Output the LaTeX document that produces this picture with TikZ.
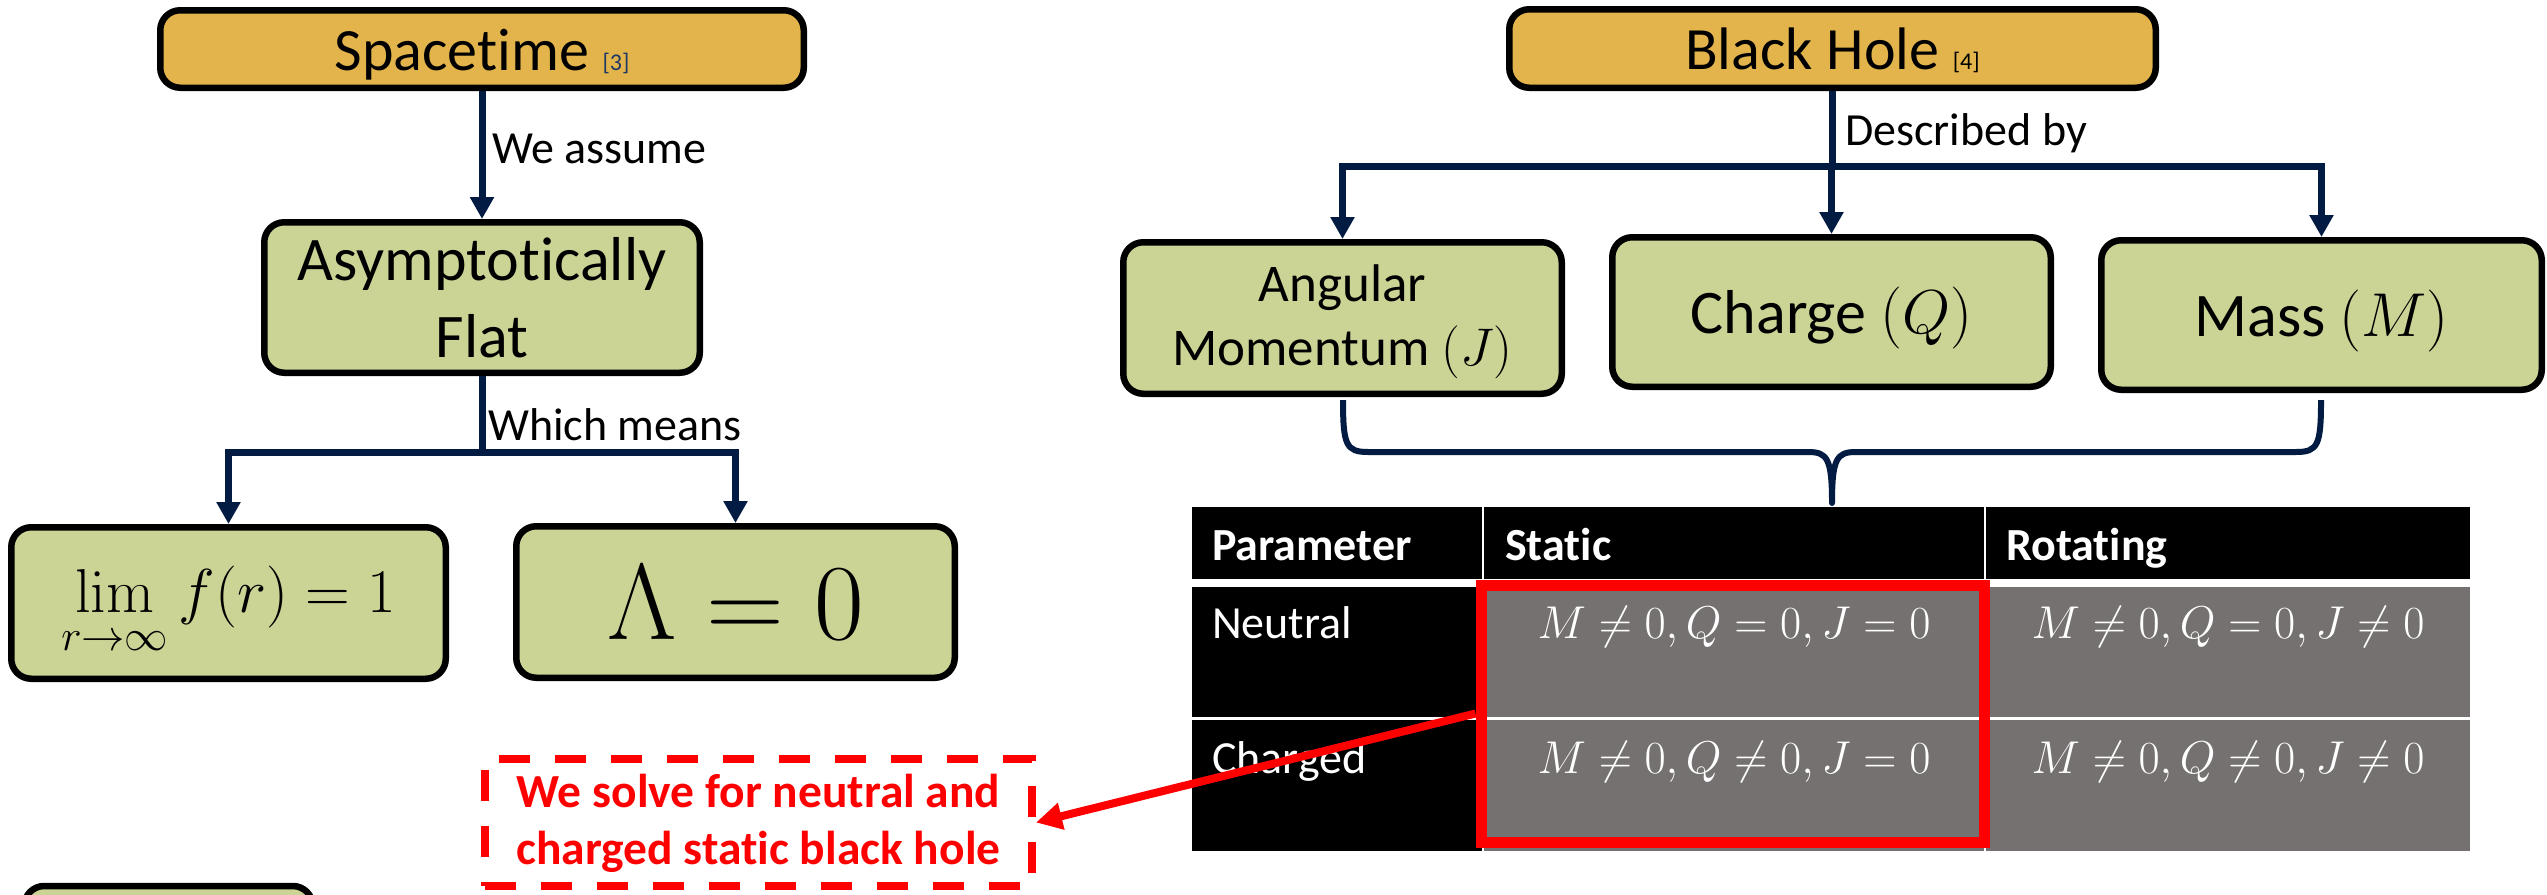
\RequirePackage{fix-cm}
\documentclass[tikz,border=0pt]{standalone}
\usepackage{exscale}
\usepackage[no-math]{fontspec}
\setmainfont{Carlito}[Ligatures={NoCommon}]
\usetikzlibrary{arrows.meta}
\definecolor{gold}{HTML}{E2B44B}
\definecolor{boxgreen}{HTML}{CBD395}
\definecolor{navy}{HTML}{021B43}
\definecolor{cellgray}{HTML}{767171}
\definecolor{refblue}{HTML}{1F3864}
\definecolor{pured}{HTML}{FF0000}
\newcommand{\myfs}[1]{\fontsize{#1}{#1}\selectfont}
\tikzset{
  box/.style={draw=black, line width=6.5pt, rounded corners=20pt, fill=boxgreen, inner sep=0pt, align=center},
  goldbox/.style={box, fill=gold},
  link/.style={draw=navy, line width=7pt},
  linkarrow/.style={link, -{Triangle[length=22pt,width=23pt]}},
  lbl/.style={anchor=base west, inner sep=0pt, font=\myfs{46}},
  celltxt/.style={anchor=base west, inner sep=0pt, text=white, font=\myfs{46}},
  cellhead/.style={celltxt, font=\bfseries\myfs{46}},
  cellmath/.style={anchor=base, inner sep=0pt, text=white, font=\myfs{46}},
  redline/.style={draw=pured, line width=8pt},
}
\begin{document}
\begin{tikzpicture}[x=1pt,y=-1pt]
\useasboundingbox (0,0) rectangle (2547,894);

% ---------- left tree ----------
\node[goldbox, minimum width=643.5pt, minimum height=77.5pt, text height=42pt, text depth=0pt, font=\myfs{60}] (space) at (482,49) {Spacetime {\myfs{24}\textcolor{refblue}{[3]}}};
\node[box, minimum width=435.5pt, minimum height=150.5pt, font=\fontsize{62}{77}\selectfont] (flat) at (482,297.5) {Asymptotically\\Flat};
\node[box, minimum width=434.5pt, minimum height=151.5pt, text height=45pt, text depth=27pt, font=\myfs{62}] (limit) at (228.5,603) {$\displaystyle\lim_{\rule{0pt}{34pt}r\to\infty} f(r) = 1$};
\node[box, minimum width=438.5pt, minimum height=151.5pt, text height=74pt, text depth=0pt, font=\myfs{108}] (lambda) at (735.5,602) {$\Lambda = 0$};
\node[box, minimum width=288.5pt, minimum height=150pt] (nextbox) at (168.5,961) {};

\draw[linkarrow] (space) -- (flat);
\node[lbl] (assume) at (492,163) {We assume};
\path (flat.south) ++(0,76) coordinate (fj);
\draw[link] (flat.south) -- (fj);
\draw[linkarrow] (fj) -| (limit.north);
\draw[linkarrow] (fj) -| (lambda.north);
\node[lbl] (means) at (488,440) {Which means};

% ---------- right tree ----------
\node[goldbox, minimum width=646.5pt, minimum height=78.5pt, text height=42pt, text depth=0pt, font=\myfs{60}] (bh) at (1832.5,48.5) {Black Hole {\myfs{24}[4]}};
\node[box, minimum width=438.5pt, minimum height=151.5pt, font=\fontsize{53}{64}\selectfont] (ang) at (1342.5,318) {\rule{0pt}{44pt}Angular\\Momentum $(J)$};
\node[box, minimum width=438.5pt, minimum height=149.5pt, text height=42pt, text depth=0pt, font=\myfs{62}] (chg) at (1831.5,312) {Charge $(Q)$};
\node[box, minimum width=440.5pt, minimum height=149.5pt, text height=42pt, text depth=0pt, font=\myfs{62}] (mass) at (2321.5,315) {Mass $(M)$};

\path (bh.south) ++(0,75) coordinate (bj);
\draw[link] (bh.south) -- (bj);
\draw[linkarrow] (bj) -| (ang.north);
\draw[linkarrow] (bj) -| (chg.north);
\draw[linkarrow] (bj) -| (mass.north);
\node[lbl] (desc) at (1845,145) {Described by};

% brace
\draw[link, line width=6pt, line join=round]
  (1343,400) .. controls (1343,445) and (1346,452) .. (1368,452) -- (1808,452)
  .. controls (1827,452) and (1832,458) .. (1832,503)
  .. controls (1832,458) and (1837,452) .. (1856,452) -- (2296,452)
  .. controls (2318,452) and (2321,445) .. (2321,400);

% ---------- table ----------
\fill[black] (1192,507) rectangle (1482,579);
\fill[black] (1484,507) rectangle (1984,579);
\fill[black] (1986,507) rectangle (2470,579);
\fill[black] (1192,587) rectangle (1482,717);
\fill[cellgray] (1484,587) rectangle (1984,717);
\fill[cellgray] (1986,587) rectangle (2470,717);
\fill[black] (1192,720) rectangle (1482,851);
\fill[cellgray] (1484,720) rectangle (1984,851);
\fill[cellgray] (1986,720) rectangle (2470,851);

\node[cellhead] (tparam) at (1212,560) {Parameter};
\node[cellhead] (tstatic) at (1505,560) {Static};
\node[cellhead] (trot) at (2006,560) {Rotating};
\node[celltxt] (tneu) at (1212,638) {Neutral};
\node[celltxt] (tchg) at (1212,773) {Charged};
\node[cellmath] (m1) at (1734,638) {$M \neq 0, Q = 0, J = 0$};
\node[cellmath] (m2) at (2228,638) {$M \neq 0, Q = 0, J \neq 0$};
\node[cellmath] (m3) at (1734,773) {$M \neq 0, Q \neq 0, J = 0$};
\node[cellmath] (m4) at (2228,773) {$M \neq 0, Q \neq 0, J \neq 0$};

% ---------- highlight ----------
\node[draw=pured, line width=11pt, minimum width=503pt, minimum height=257pt, inner sep=0pt] (static) at (1732.5,713.5) {};
\node[draw=pured, line width=8pt, dash pattern=on 31pt off 25pt, minimum width=547pt, minimum height=127pt, inner sep=0pt, align=center, text=pured, text depth=6pt, font=\bfseries\fontsize{47.5}{57}\selectfont] (solve) at (758.5,822.5) {We solve for neutral and\\charged static black hole};
\draw[redline, -{Triangle[length=26pt,width=26pt]}] (static.west) -- (solve.east);
\end{tikzpicture}
\end{document}
